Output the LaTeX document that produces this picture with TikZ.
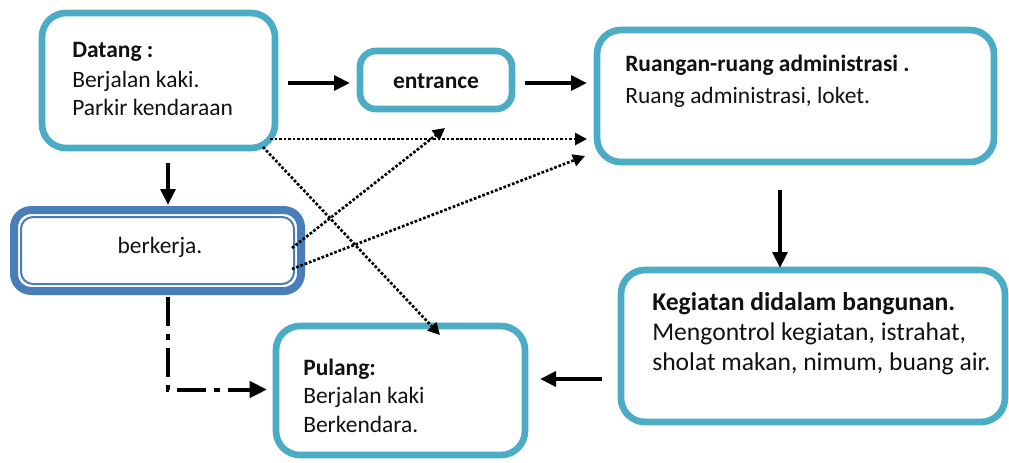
\documentclass[tikz,border=0pt]{standalone}
\usepackage{fontspec}
\setmainfont{Carlito}
\usetikzlibrary{arrows.meta,calc}
\definecolor{boxteal}{HTML}{4BACC6}
\definecolor{boxblue}{HTML}{4A7EBB}
\definecolor{ink}{HTML}{111111}
\tikzset{
  sz/.style 2 args={minimum width=#1*0.75pt, minimum height=#2*0.75pt},
  tealbox/.style={draw=boxteal, line width=5pt, rounded corners=18pt, fill=white, inner sep=0pt, outer sep=0pt},
  bluebox/.style={draw=boxblue, line width=6pt, rounded corners=13pt, fill=white, inner sep=0pt, outer sep=0pt},
  txt/.style={inner sep=0pt, anchor=base west, text=ink, font=\fontsize{17.6}{21}\selectfont},
  bigtxt/.style={txt, font=\fontsize{19.2}{23}\selectfont},
  ctxt/.style={txt, anchor=base},
  solidarr/.style={draw=black, line width=3.3pt, -{Triangle[length=12pt,width=11pt]}},
  dotarr/.style={draw=black, line width=2pt, dash pattern=on 2pt off 1.4pt, -{Triangle[length=9pt,width=9pt]}},
  dasharr/.style={draw=black, line width=3pt, dash pattern=on 22pt off 6pt on 4pt off 6pt, -{Triangle[length=13pt,width=12pt]}},
}
\begin{document}
\begin{tikzpicture}[x=0.75pt,y=-0.75pt]
\useasboundingbox (0,0) rectangle (1009,462);
\fill[white] (0,0) rectangle (1009,462);

% boxes
\node[tealbox, sz={233}{135}] (datang) at (158.5,80.5) {};
\node[tealbox, sz={152}{58}, rounded corners=12pt] (entrance) at (436,80) {};
\node[tealbox, sz={397}{132}] (ruangan) at (795.5,96) {};
\node[tealbox, sz={384}{152}] (kegiatan) at (813,346) {};
\node[tealbox, sz={249}{129}] (pulang) at (400.5,390.5) {};
\node[bluebox, sz={287}{81}] (berkerja) at (157.5,250.5) {};
% inner thin rule of the working box
\draw[boxblue, line width=1.5pt, rounded corners=9pt]
  ($(berkerja.north west)+(7,7)$) rectangle ($(berkerja.south east)+(-7,-7)$);

% texts
\node[txt] (d1) at (72,57) {\textbf{Datang :}};
\node[txt] (d2) at (72,87) {Berjalan kaki.};
\node[txt] (d3) at (72,115) {Parkir kendaraan};
\node[ctxt] (e1) at (436,88) {\textbf{entrance}};
\node[txt] (r1) at (625,71) {\textbf{Ruangan-ruang administrasi .}};
\node[txt] (r2) at (625,103) {Ruang administrasi, loket.};
\node[ctxt] (b1) at (160,253) {berkerja.};
\node[bigtxt] (k1) at (652,310) {\textbf{Kegiatan didalam bangunan.}};
\node[bigtxt] (k2) at (652,340) {Mengontrol kegiatan, istrahat,};
\node[bigtxt] (k3) at (652,370) {sholat makan, nimum, buang air.};
\node[txt] (p1) at (303,375) {\textbf{Pulang:}};
\node[txt] (p2) at (303,403) {Berjalan kaki};
\node[txt] (p3) at (303,432) {Berkendara.};

% solid flow
\draw[solidarr] ($(datang.east)+(13,2.5)$) -- ($(entrance.west)+(-10,3)$);
\draw[solidarr] ($(entrance.east)+(13,3)$) -- ($(ruangan.west)+(-10,-13)$);
\draw[solidarr] ($(datang.south)+(9.5,15)$) -- ($(berkerja.north)+(10.5,-5)$);
\draw[solidarr] ($(ruangan.south)+(-15.5,28)$) -- ($(kegiatan.north)+(-33,-2)$);
\draw[solidarr] ($(kegiatan.west)+(-19,33)$) -- ($(pulang.east)+(15,-11.5)$);

% dash-dot return path
\draw[dasharr] ($(berkerja.south)+(10.5,6)$) |- ($(pulang.west)+(-9,-1)$);

% dotted links
\draw[dotarr] ($(datang.south east)+(-5,-9)$) -- ($(ruangan.west)+(-10,43)$);
\draw[dotarr] ($(datang.south east)+(-12,-1)$) -- ($(pulang.north)+(39.5,9)$);
\draw[dotarr] ($(berkerja.east)+(-9,-2.5)$) -- ($(entrance.south)+(9,19)$);
\draw[dotarr] ($(berkerja.east)+(-9,18.5)$) -- ($(ruangan.south west)+(-12,-6)$);
\end{tikzpicture}
\end{document}
